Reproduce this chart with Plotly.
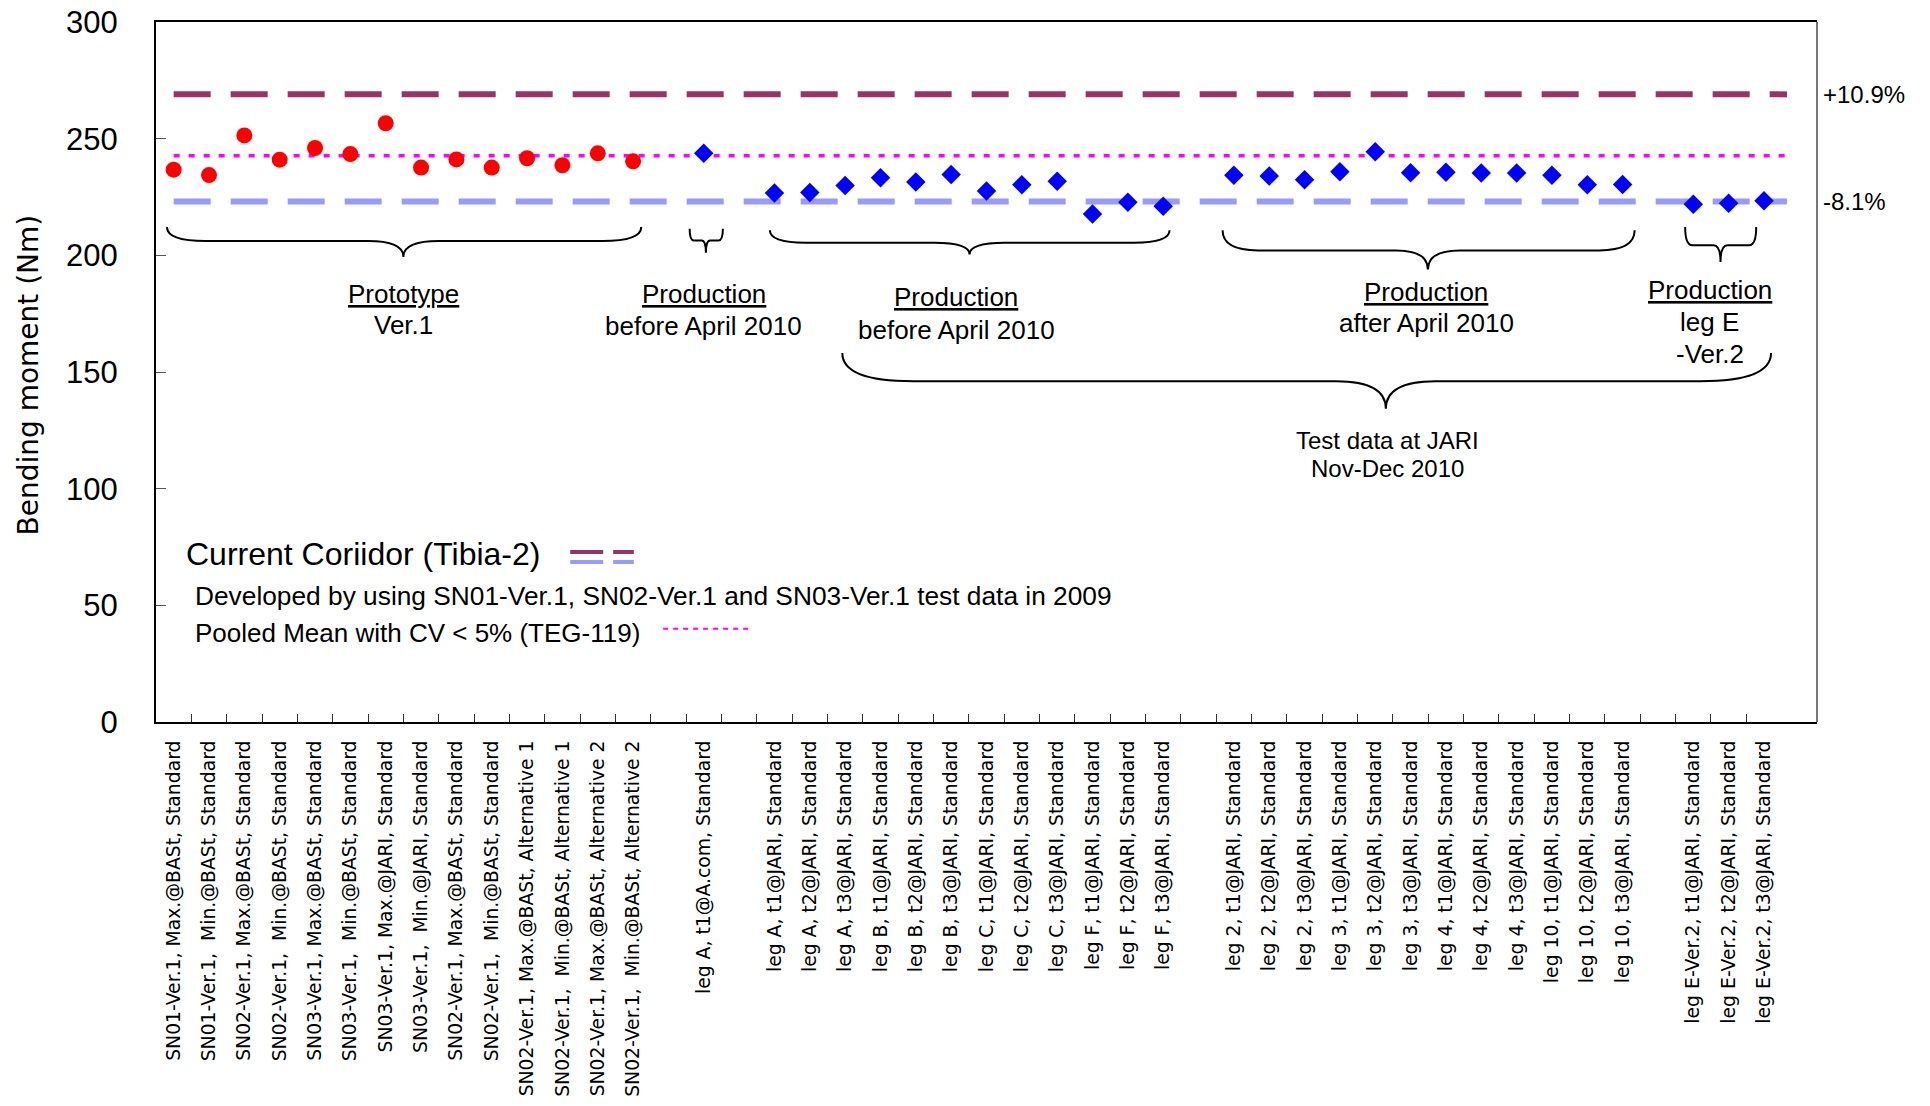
import plotly.graph_objects as go

# ---------------------------------------------------------------
# Data
# ---------------------------------------------------------------
NB = "\u00a0"

proto_labels = [
    "SN01-Ver.1, Max.@BASt, Standard",
    f"SN01-Ver.1,{NB}{NB}Min.@BASt, Standard",
    "SN02-Ver.1, Max.@BASt, Standard",
    f"SN02-Ver.1,{NB}{NB}Min.@BASt, Standard",
    "SN03-Ver.1, Max.@BASt, Standard",
    f"SN03-Ver.1,{NB}{NB}Min.@BASt, Standard",
    "SN03-Ver.1, Max.@JARI, Standard",
    f"SN03-Ver.1,{NB}{NB}Min.@JARI, Standard",
    "SN02-Ver.1, Max.@BASt, Standard",
    f"SN02-Ver.1,{NB}{NB}Min.@BASt, Standard",
    "SN02-Ver.1, Max.@BASt, Alternative 1",
    f"SN02-Ver.1,{NB}{NB}Min.@BASt, Alternative 1",
    "SN02-Ver.1, Max.@BASt, Alternative 2",
    f"SN02-Ver.1,{NB}{NB}Min.@BASt, Alternative 2",
]
proto_values = [236.7, 234.4, 251.4, 241.0, 246.0, 243.4, 256.6,
                237.6, 241.1, 237.6, 241.6, 238.6, 243.7, 240.3]

prod_a_labels = ["leg A, t1@A.com, Standard"]
prod_a_values = [243.7]

before_labels = [
    "leg A, t1@JARI, Standard", "leg A, t2@JARI, Standard", "leg A, t3@JARI, Standard",
    "leg B, t1@JARI, Standard", "leg B, t2@JARI, Standard", "leg B, t3@JARI, Standard",
    "leg C, t1@JARI, Standard", "leg C, t2@JARI, Standard", "leg C, t3@JARI, Standard",
    "leg F, t1@JARI, Standard", "leg F, t2@JARI, Standard", "leg F, t3@JARI, Standard",
]
before_values = [226.7, 226.9, 229.9, 233.3, 231.4, 234.6,
                 227.6, 230.3, 231.7, 217.7, 222.7, 221.0]

after_labels = [
    "leg 2, t1@JARI, Standard", "leg 2, t2@JARI, Standard", "leg 2, t3@JARI, Standard",
    "leg 3, t1@JARI, Standard", "leg 3, t2@JARI, Standard", "leg 3, t3@JARI, Standard",
    "leg 4, t1@JARI, Standard", "leg 4, t2@JARI, Standard", "leg 4, t3@JARI, Standard",
    "leg 10, t1@JARI, Standard", "leg 10, t2@JARI, Standard", "leg 10, t3@JARI, Standard",
]
after_values = [234.3, 234.0, 232.4, 235.8, 244.4, 235.4,
                235.6, 235.3, 235.3, 234.3, 230.3, 230.4]

leg_e_labels = ["leg E-Ver.2, t1@JARI, Standard",
                "leg E-Ver.2, t2@JARI, Standard",
                "leg E-Ver.2, t3@JARI, Standard"]
leg_e_values = [221.9, 222.3, 223.4]

corridor_upper = 269.0   # +10.9 %
corridor_lower = 223.1   # -8.1 %
pooled_mean = 242.7

# ---------------------------------------------------------------
# Category slots: one empty slot between groups
# ---------------------------------------------------------------
groups = [(proto_labels, proto_values), (prod_a_labels, prod_a_values),
          (before_labels, before_values), (after_labels, after_values),
          (leg_e_labels, leg_e_values)]
slot_x, slot_lab, slot_val = [], [], []
pos = 0
for labs, vals in groups:
    for lab, v in zip(labs, vals):
        slot_x.append(pos)
        slot_lab.append(lab)
        slot_val.append(v)
        pos += 1
    pos += 1
n_red = len(proto_labels)
x_end = slot_x[-1] + 0.65

SANS = "Liberation Sans, Arial, sans-serif"
VERD = "DejaVu Sans, Verdana, sans-serif"
PURPLE, LBLUE, MAG = "#993366", "#9999FF", "#FF00FF"

fig = go.Figure()

# corridor lines + pooled mean
fig.add_trace(go.Scatter(x=[0, x_end], y=[corridor_upper] * 2, mode="lines",
                         line=dict(color=PURPLE, width=6, dash="37px,20px"), hoverinfo="skip"))
fig.add_trace(go.Scatter(x=[0, x_end], y=[corridor_lower] * 2, mode="lines",
                         line=dict(color=LBLUE, width=6, dash="37px,20px"), hoverinfo="skip"))
fig.add_trace(go.Scatter(x=[0, x_end + 0.15], y=[pooled_mean] * 2, mode="lines",
                         line=dict(color=MAG, width=3.5, dash="6px,9px"), hoverinfo="skip"))

# data points
fig.add_trace(go.Scatter(x=slot_x[:n_red], y=slot_val[:n_red], mode="markers",
                         marker=dict(symbol="circle", size=16, color="#FF0000"),
                         text=slot_lab[:n_red]))
fig.add_trace(go.Scatter(x=slot_x[n_red:], y=slot_val[n_red:], mode="markers",
                         marker=dict(symbol="diamond", size=15, color="#0000FF"),
                         text=slot_lab[n_red:]))


# ---------------------------------------------------------------
# curly braces
# ---------------------------------------------------------------
def brace_path(x1, x2, xm, yt, yl, yb, de, dm):
    return (f"M {x1},{yt} Q {x1},{yl} {x1 + de},{yl} L {xm - dm},{yl} "
            f"Q {xm},{yl} {xm},{yb} Q {xm},{yl} {xm + dm},{yl} "
            f"L {x2 - de},{yl} Q {x2},{yl} {x2},{yt}")


braces = [
    (-0.19, 13.23, 6.5, 212.1, 206.1, 199.3, 1.1, 1.0),
    (14.6, 15.54, 15.06, 211.4, 206.4, 201.1, 0.12, 0.12),
    (16.87, 28.18, 22.52, 210.7, 205.4, 200.4, 1.0, 1.0),
    (29.68, 41.34, 35.49, 210.7, 202.1, 193.9, 1.0, 0.9),
    (42.77, 44.78, 43.77, 212.1, 204.3, 197.1, 0.2, 0.2),
    (18.92, 45.2, 34.3, 158.1, 146.0, 134.2, 2.0, 1.4),
]
shapes = []
for b in braces:
    shapes.append(dict(type="path", xref="x", yref="y", path=brace_path(*b),
                       line=dict(color="black", width=2)))

# legend-like swatches
shapes += [
    dict(type="line", xref="x", yref="y", x0=11.22, x1=13.02, y0=72.9, y1=72.9,
         line=dict(color=PURPLE, width=4, dash="33px,10px")),
    dict(type="line", xref="x", yref="y", x0=11.22, x1=13.02, y0=68.6, y1=68.6,
         line=dict(color=LBLUE, width=4, dash="33px,10px")),
    dict(type="line", xref="x", yref="y", x0=13.85, x1=16.25, y0=40.0, y1=40.0,
         line=dict(color=MAG, width=2, dash="5px,5px")),
    # right frame edge
    dict(type="line", xref="paper", yref="paper", x0=1, x1=1, y0=0, y1=1,
         line=dict(color="#777777", width=2)),
]


def note(x, y, text, size=26, anchor="center", family=SANS):
    return dict(x=x, y=y, xref="x", yref="y", text=text, showarrow=False,
                xanchor=anchor, yanchor="middle",
                font=dict(family=family, size=size, color="black"))


annotations = [
    note(6.5, 183.3, "<u>Prototype</u>"), note(6.5, 170.0, "Ver.1"),
    note(15.0, 183.5, "<u>Production</u>"), note(15.0, 169.8, "before April 2010"),
    note(22.15, 182.0, "<u>Production</u>"), note(22.15, 168.2, "before April 2010"),
    note(35.45, 184.2, "<u>Production</u>"), note(35.45, 170.9, "after April 2010"),
    note(43.47, 185.0, "<u>Production</u>"), note(43.47, 171.4, "leg E"),
    note(43.47, 157.8, "-Ver.2"),
    note(34.35, 120.5, "Test data at JARI", size=24),
    note(34.35, 108.5, "Nov-Dec 2010", size=24),
    note(0.28, 72.1, "Current Coriidor (Tibia-2)", size=32, anchor="left"),
    note(0.56, 54.0, "Developed by using SN01-Ver.1, SN02-Ver.1 and SN03-Ver.1 test data in 2009",
         size=26.3, anchor="left"),
    note(0.56, 38.3, "Pooled Mean with CV &lt; 5% (TEG-119)", anchor="left"),
    dict(x=1, y=corridor_upper, xref="paper", yref="y", text="+10.9%", showarrow=False,
         xanchor="left", yanchor="middle", xshift=4,
         font=dict(family=SANS, size=24, color="black")),
    dict(x=1, y=corridor_lower, xref="paper", yref="y", text="-8.1%", showarrow=False,
         xanchor="left", yanchor="middle", xshift=4,
         font=dict(family=SANS, size=24, color="black")),
    dict(x=0, y=148.5, xref="paper", yref="y", text="Bending moment (Nm)", showarrow=False,
         textangle=-90, xanchor="center", yanchor="middle", xshift=-128,
         font=dict(family=VERD, size=28, color="black")),
]

minor_ticks = [k + 0.5 for k in range(0, int(x_end))]

fig.update_layout(
    width=1930, height=1106,
    margin=dict(l=156, r=113, t=22, b=384),
    paper_bgcolor="white", plot_bgcolor="white",
    showlegend=False,
    shapes=shapes, annotations=annotations,
    xaxis=dict(
        range=[-0.5, 46.5], tickmode="array", tickvals=slot_x, ticktext=slot_lab,
        tickangle=-90, ticks="", tickfont=dict(family=VERD, size=18.8, color="black"),
        ticklabelstandoff=9, automargin=False, ticklabeloverflow="allow",
        showline=True, linecolor="black", linewidth=2, mirror=True,
        showgrid=False, zeroline=False,
        minor=dict(tickmode="array", tickvals=minor_ticks, ticks="inside",
                   ticklen=8, tickwidth=1, tickcolor="#333333", showgrid=False),
    ),
    yaxis=dict(
        range=[0, 300], tickmode="linear", tick0=0, dtick=50,
        ticks="inside", ticklen=10, tickwidth=1, tickcolor="#555555",
        tickfont=dict(family=SANS, size=31, color="black"),
        ticklabelstandoff=30, automargin=False, ticklabeloverflow="allow",
        showline=True, linecolor="black", linewidth=2,
        showgrid=False, zeroline=False,
    ),
)

# drop the default page margin so the figure sits at the window corner
fig.write_html("out.html", config={"displayModeBar": False},
               post_script="document.body.style.margin='0';document.body.style.overflow='hidden';")
